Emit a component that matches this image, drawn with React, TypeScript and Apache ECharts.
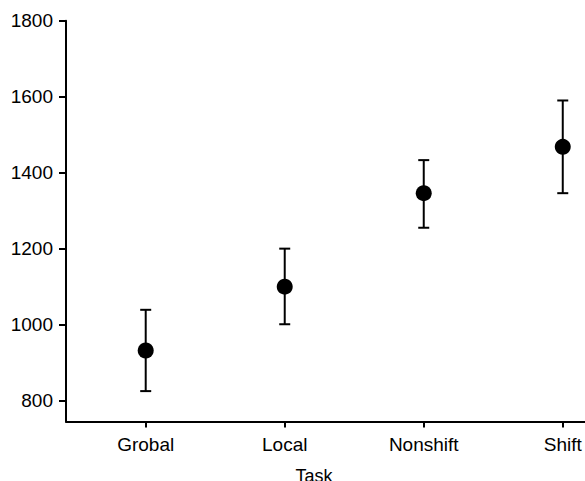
import React, { useEffect, useRef } from "react";
import * as echarts from "echarts";

const categories = ["Grobal", "Local", "Nonshift", "Shift"];
const means = [932, 1100, 1346, 1468];
const upper = [1039, 1200, 1433, 1590];
const lower = [825, 1001, 1255, 1346];
const yTicks = [800, 1000, 1200, 1400, 1600, 1800];
const xPositions = [1, 2, 3, 4];

const FONT = "'Liberation Sans', Arial, sans-serif";

export default function App() {
  const ref = useRef<HTMLDivElement>(null);
  useEffect(() => {
    if (!ref.current) return;
    const chart = echarts.init(ref.current, undefined, { renderer: "svg" });
    const pointData = xPositions.map((x, i) => [x, means[i]]);
    const errData = xPositions.map((x, i) => [x, lower[i], upper[i]]);
    chart.setOption({
      animation: false,
      backgroundColor: "#ffffff",
      grid: {
        left: 66,
        right: 0,
        top: 20.7,
        bottom: 59.5,
        containLabel: false,
        outerBoundsMode: "none",
      },
      xAxis: {
        type: "value",
        min: 0.4266,
        max: 4.16,
        name: "Task",
        nameLocation: "middle",
        nameGap: 45,
        nameTextStyle: { color: "#000", fontSize: 18, fontFamily: FONT, padding: [0, 23, 0, 0] },
        splitLine: { show: false },
        axisLine: { show: true, onZero: false, lineStyle: { color: "#000", width: 2 } },
        axisTick: { show: true, length: 6, lineStyle: { color: "#000", width: 2 }, customValues: xPositions },
        axisLabel: {
          show: true,
          color: "#000",
          fontSize: 19,
          fontFamily: FONT,
          margin: 13,
          customValues: xPositions,
          formatter: (v: number) => categories[Math.round(v) - 1] ?? "",
        },
      },
      yAxis: {
        type: "value",
        min: 745,
        max: 1800,
        splitLine: { show: false },
        axisLine: { show: true, onZero: false, lineStyle: { color: "#000", width: 2 } },
        axisTick: { show: true, length: 7, lineStyle: { color: "#000", width: 2 }, customValues: yTicks },
        axisLabel: {
          show: true,
          color: "#000",
          fontSize: 19,
          fontFamily: FONT,
          margin: 13,
          customValues: yTicks,
          formatter: (v: number) => String(v),
        },
      },
      series: [
        {
          type: "custom",
          name: "error",
          data: errData,
          encode: { x: 0, y: [1, 2] },
          renderItem: (params: any, api: any) => {
            const x = api.value(0);
            const lo = api.coord([x, api.value(1)]);
            const hi = api.coord([x, api.value(2)]);
            const hw = 5.5;
            const style = { stroke: "#000", lineWidth: 2 };
            return {
              type: "group",
              children: [
                { type: "line", shape: { x1: lo[0], y1: lo[1], x2: hi[0], y2: hi[1] }, style },
                { type: "line", shape: { x1: hi[0] - hw, y1: hi[1], x2: hi[0] + hw, y2: hi[1] }, style },
                { type: "line", shape: { x1: lo[0] - hw, y1: lo[1], x2: lo[0] + hw, y2: lo[1] }, style },
              ],
            };
          },
          z: 1,
        },
        {
          type: "scatter",
          name: "mean",
          data: pointData,
          symbol: "circle",
          symbolSize: 16,
          itemStyle: { color: "#000", opacity: 1 },
          z: 2,
        },
      ],
    });
    return () => chart.dispose();
  }, []);
  return (
    <div
      ref={ref}
      style={{ position: "absolute", left: 0, top: 0, width: 585, height: 481 }}
    />
  );
}
